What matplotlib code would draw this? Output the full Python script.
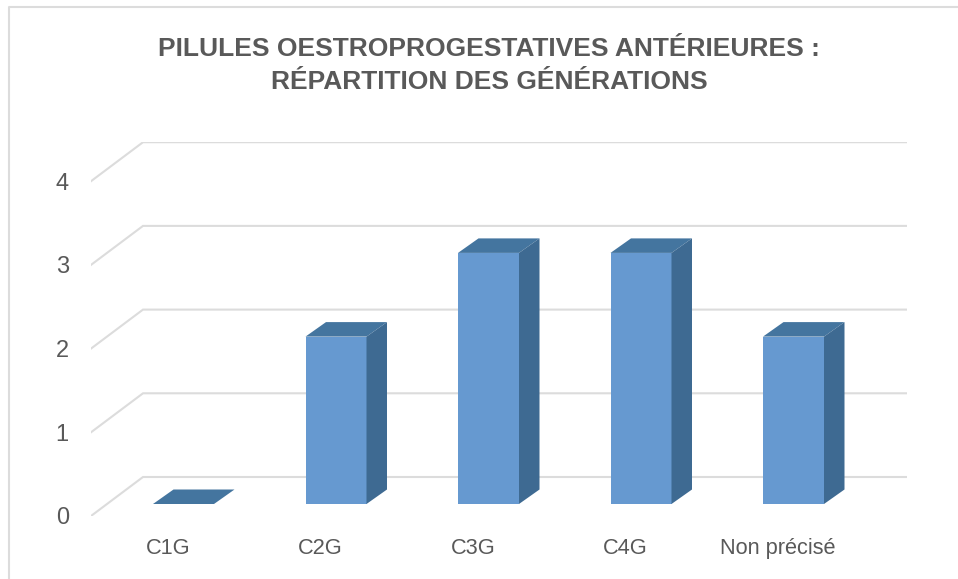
# Pilules oestroprogestatives - bar chart with fake 3D depth
import numpy as np
import matplotlib
matplotlib.use('Agg')
import matplotlib.pyplot as plt
from matplotlib.patches import Polygon

# Data
categories = ['C1G', 'C2G', 'C3G', 'C4G', 'Non précisé']
values = [0, 2, 3, 3, 2]
y_ticks = [0, 1, 2, 3, 4]
title = 'PILULES OESTROPROGESTATIVES ANTÉRIEURES :\nRÉPARTITION DES GÉNÉRATIONS'

W, H = 958, 579
plt.rcParams['font.family'] = ['Liberation Sans', 'DejaVu Sans']

# pixel scale of the chart: one category = 152.5 px, one unit = 83.7 px
x_px, y_px = 152.5, 83.7
x0_px, y0_px = 183.5, 504          # centre of first bar, foot of bars
left, right, bottom, top = 91, 907, 516, 141.5

fig = plt.figure(figsize=(W / 100, H / 100), dpi=100, facecolor='white')
ax = fig.add_axes([left / W, 1 - bottom / H, (right - left) / W, (bottom - top) / H])
ax.set_xlim((left - x0_px) / x_px, (right - x0_px) / x_px)
ax.set_ylim((y0_px - bottom) / y_px, (y0_px - top) / y_px)
ax.patch.set_visible(False)
for s in ax.spines.values():
    s.set_visible(False)

grid_color = '#dcdcdc'
text_color = '#595959'
front_color = '#6699d0'
top_color = '#44759f'
side_color = '#3e6a92'

# depth of the floor and of the bars, in data units
xmin, ymin = ax.get_xlim()[0], ax.get_ylim()[0]
wall_dx, wall_dy = 52 / x_px, 39 / y_px
bar_w = 61 / x_px
bar_dx, bar_dy = 20.5 / x_px, 14.5 / y_px

# Gridlines on the back wall, diagonals on the side wall
for v in y_ticks:
    ax.plot([xmin, xmin + wall_dx, ax.get_xlim()[1]],
            [v + ymin, v + ymin + wall_dy, v + ymin + wall_dy],
            color=grid_color, lw=1.5, zorder=1, solid_joinstyle='miter')

# Bars
x = np.arange(len(categories))
ax.bar(x, values, width=bar_w, color=front_color, zorder=3)
for xi, v in zip(x, values):
    l, r = xi - bar_w / 2, xi + bar_w / 2
    ax.add_patch(Polygon([(l, v), (r, v), (r + bar_dx, v + bar_dy), (l + bar_dx, v + bar_dy)],
                         closed=True, fc=top_color, ec='none', zorder=3))
    if v > 0:
        ax.add_patch(Polygon([(r, 0), (r + bar_dx, bar_dy), (r + bar_dx, v + bar_dy), (r, v)],
                             closed=True, fc=side_color, ec='none', zorder=3))

# Axis labels
ax.set_yticks([v + ymin for v in y_ticks])
ax.set_yticklabels([str(v) for v in y_ticks])
ax.set_xticks(x - 15.5 / x_px)
ax.set_xticklabels(categories)
ax.tick_params(axis='y', length=0, pad=16, labelsize=17, labelcolor=text_color)
ax.tick_params(axis='x', length=0, pad=16, labelsize=15.7, labelcolor=text_color)

# Title
fig.text(489 / W, 1 - 65.5 / H, title, ha='center', va='center', fontsize=19,
         fontweight='bold', color=text_color, linespacing=1.5)

# Frame of the pasted chart
fig.add_artist(plt.Line2D([8.5 / W, 8.5 / W, 1], [0, 1 - 7 / H, 1 - 7 / H],
                          color='#dcdcdc', lw=1.5))

fig.savefig('out.png', dpi=100)
